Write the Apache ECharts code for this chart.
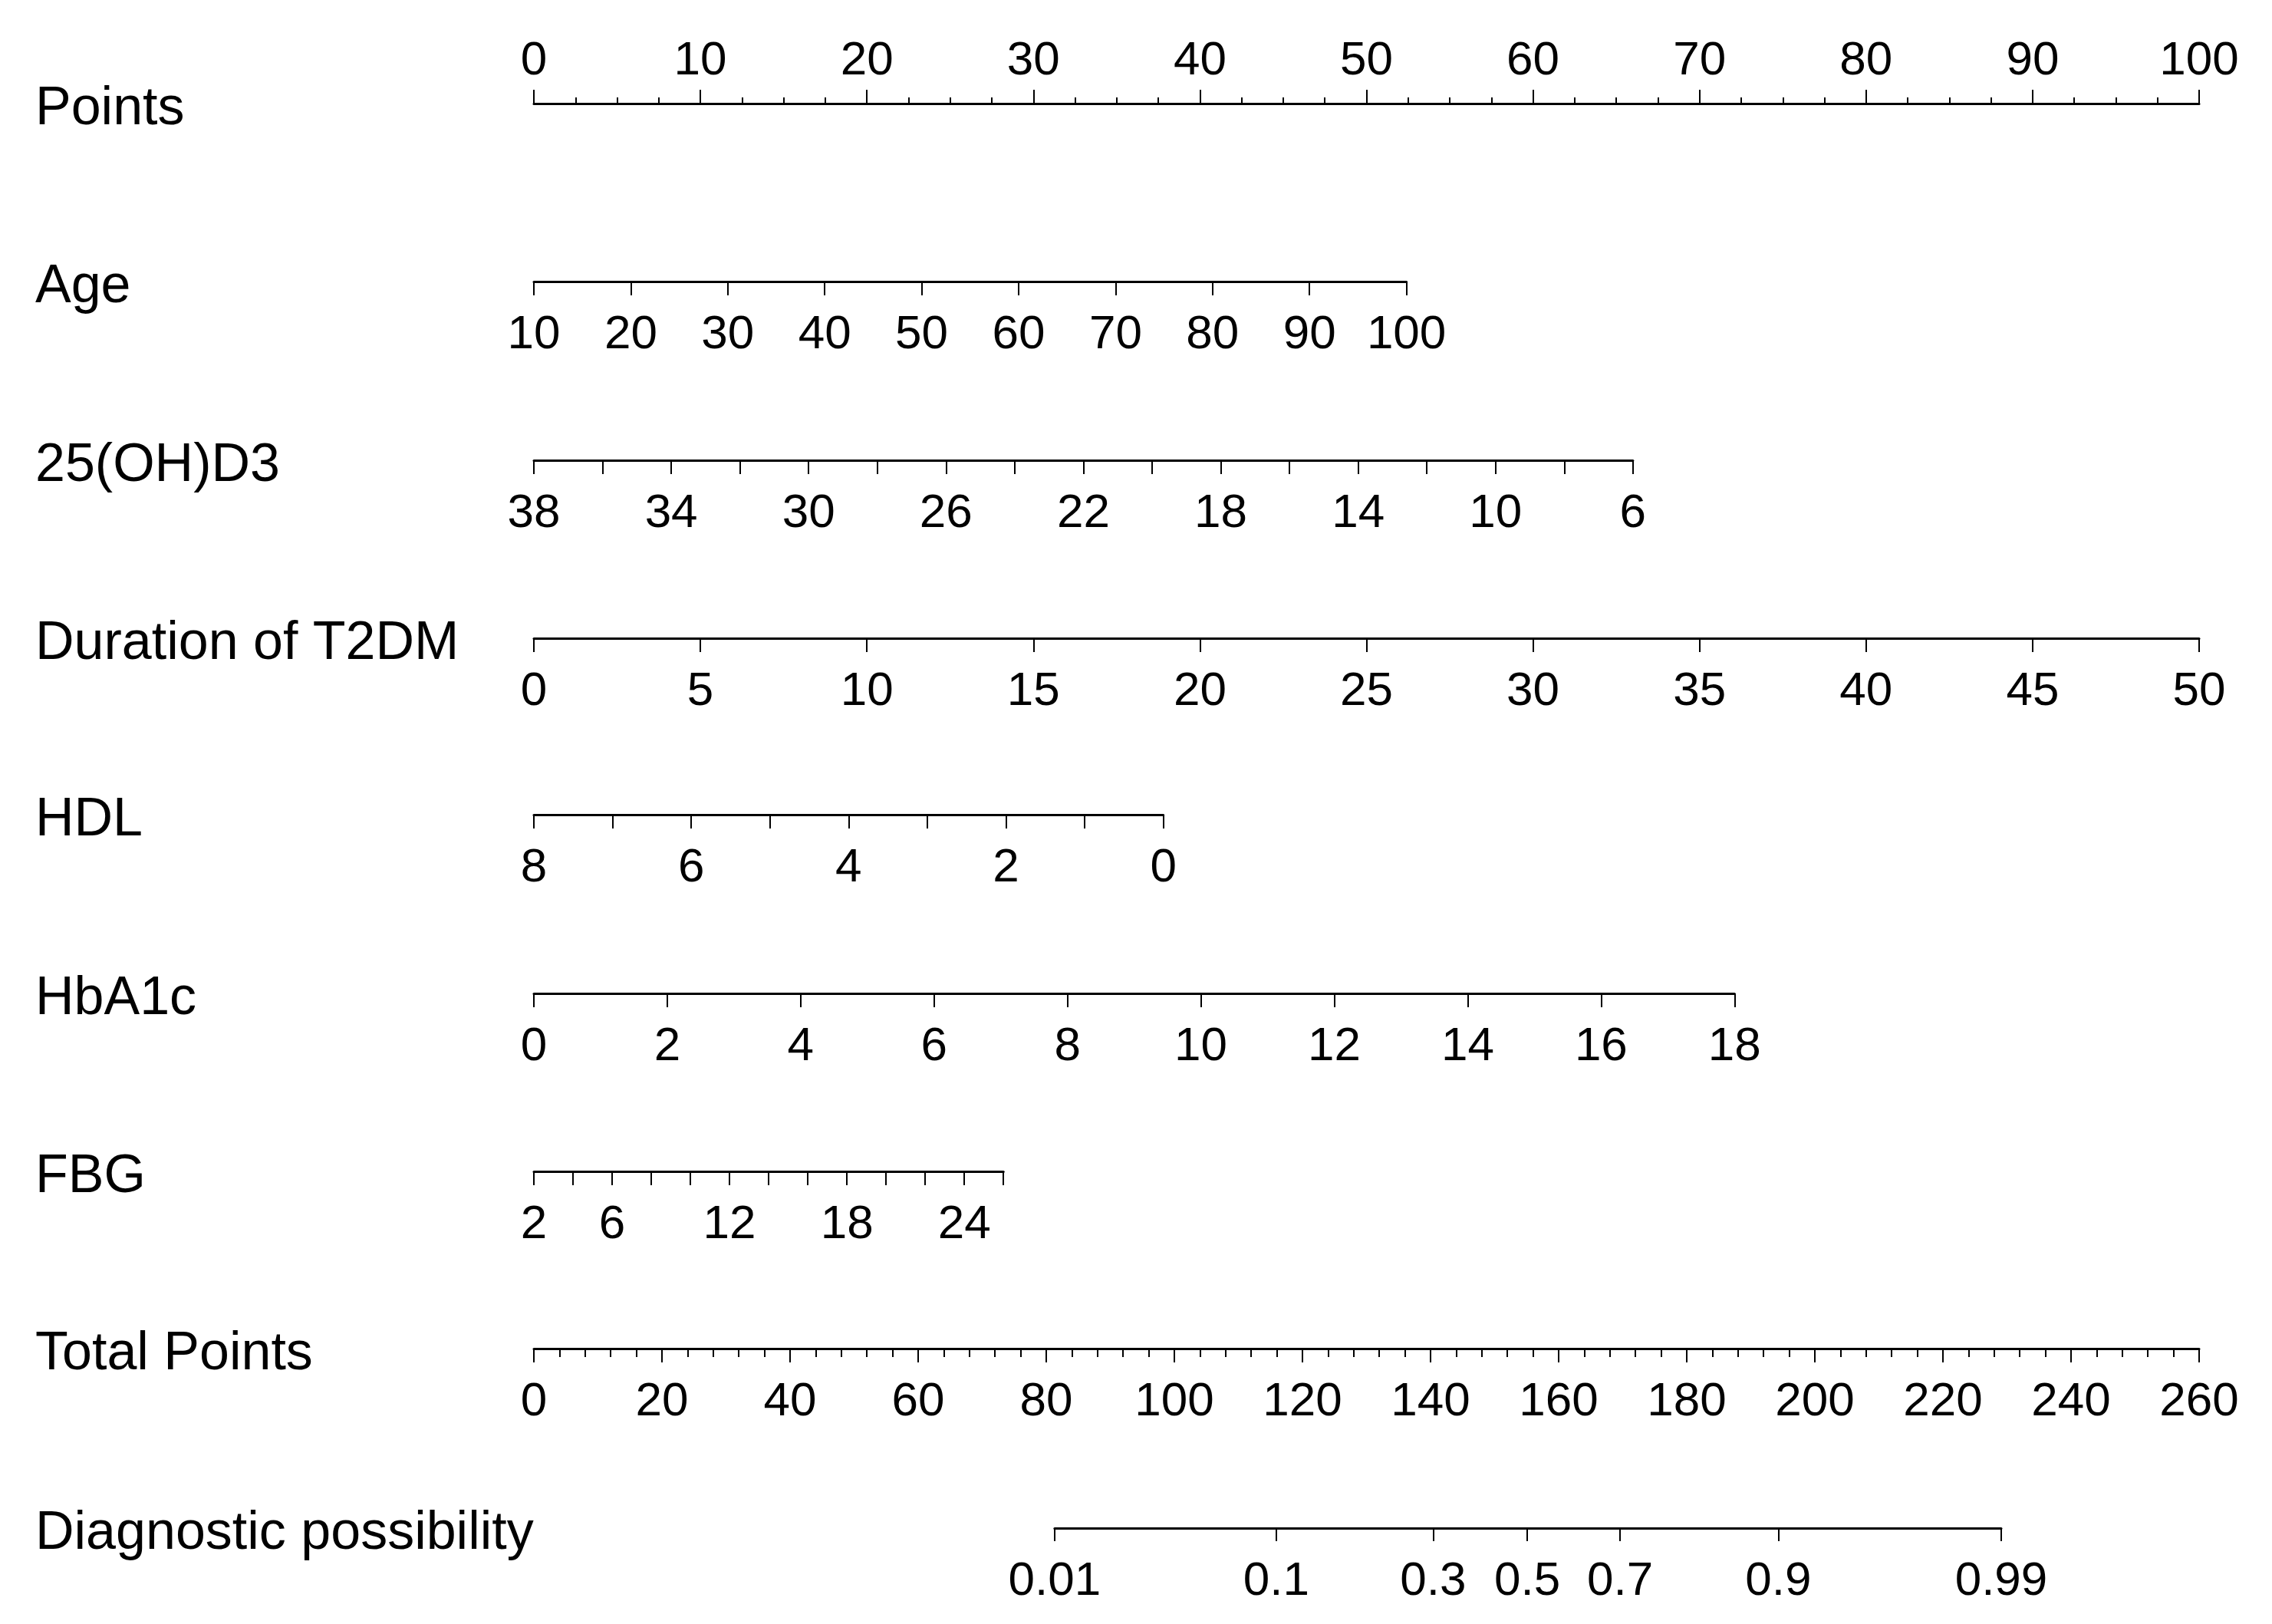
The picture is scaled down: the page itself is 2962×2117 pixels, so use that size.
<!DOCTYPE html>
<html>
<head>
<meta charset="utf-8">
<script src="https://cdn.jsdelivr.net/npm/echarts@6/dist/echarts.min.js"></script>
<style>
html, body { margin: 0; padding: 0; background: #fff; }
#main { width: 2962px; height: 2117px; }
</style>
</head>
<body>
<div id="main"></div>
<script>
// row names, top to bottom
var rowNames = ['Points', 'Age', '25(OH)D3', 'Duration of T2DM', 'HDL', 'HbA1c', 'FBG', 'Total Points', 'Diagnostic possibility'];

// points scale
var pointsRange = [0, 100];
var pointsStep = 10;

// predictors: value at 0 points, value at far end, points at far end
var ageRange = [10, 100];
var ageMaxPoints = 52.4;
var ageStep = 10;

var vitdRange = [38, 6];
var vitdMaxPoints = 66.0;
var vitdStep = 2;
var vitdLabels = [38, 34, 30, 26, 22, 18, 14, 10, 6];

var durationRange = [0, 50];
var durationMaxPoints = 100;
var durationStep = 5;

var hdlRange = [8, 0];
var hdlMaxPoints = 37.8;
var hdlStep = 1;
var hdlLabels = [8, 6, 4, 2, 0];

var hba1cRange = [0, 18];
var hba1cMaxPoints = 72.1;
var hba1cStep = 2;

var fbgRange = [2, 26];
var fbgMaxPoints = 28.2;
var fbgStep = 2;
var fbgLabels = [2, 6, 12, 18, 24];

// total points and probability
var totalRange = [0, 260];
var totalStep = 20;
var probLabels = ['0.01', '0.1', '0.3', '0.5', '0.7', '0.9', '0.99'];
var probTotalPoints = [81.3, 115.9, 140.4, 155.1, 169.6, 194.3, 229.1];

// layout
var X0 = 696, W = 2171;
var lineY = [135, 367, 600, 832, 1062, 1295, 1527, 1758, 1992];
var FONT = '"Liberation Sans", Arial, sans-serif';
var tickFont = 62, nameFont = 70;

var grids = [], xAxes = [], yAxes = [], graphics = [];

function labelFilter(list) {
    if (!list) return function(v) { return String(v); };
    return function(v) { return list.indexOf(v) >= 0 ? String(v) : ''; };
}

function addRow(i, range, endPoints, totalPoints, step, labels, extra) {
    var top = i === 0;
    grids.push({
        left: X0,
        width: endPoints / totalPoints * W,
        top: top ? lineY[i] : lineY[i] - 20,
        height: 20,
        containLabel: false,
        outerBoundsMode: 'none'
    });
    var ax = {
        gridIndex: i,
        type: 'value',
        position: top ? 'top' : 'bottom',
        min: Math.min(range[0], range[1]),
        max: Math.max(range[0], range[1]),
        interval: step,
        inverse: range[0] > range[1],
        axisLine: { show: true, onZero: false, lineStyle: { color: '#000', width: 3 } },
        axisTick: { show: true, length: 18, lineStyle: { color: '#000', width: 2 } },
        axisLabel: {
            show: true, margin: top ? 24 : 39, fontSize: tickFont, fontFamily: FONT, color: '#000',
            formatter: labelFilter(labels)
        },
        splitLine: { show: false }
    };
    if (extra) {
        for (var k in extra) ax[k] = extra[k];
    }
    xAxes.push(ax);
    yAxes.push({ gridIndex: i, type: 'value', show: false, min: 0, max: 1 });
}

addRow(0, pointsRange, 100, 100, pointsStep, null, {
    minorTick: { show: true, splitNumber: 4, length: 8, lineStyle: { color: '#000', width: 2 } }
});
addRow(1, ageRange, ageMaxPoints, 100, ageStep, null);
addRow(2, vitdRange, vitdMaxPoints, 100, vitdStep, vitdLabels);
addRow(3, durationRange, durationMaxPoints, 100, durationStep, null);
addRow(4, hdlRange, hdlMaxPoints, 100, hdlStep, hdlLabels);
addRow(5, hba1cRange, hba1cMaxPoints, 100, hba1cStep, null);
addRow(6, fbgRange, fbgMaxPoints, 100, fbgStep, fbgLabels);
addRow(7, totalRange, totalRange[1], totalRange[1], totalStep, null, {
    minorTick: { show: true, splitNumber: 5, length: 11, lineStyle: { color: '#000', width: 2 } }
});

// probability axis sits on the total points scale
var pFirst = probTotalPoints[0], pLast = probTotalPoints[probTotalPoints.length - 1];
grids.push({
    left: X0 + pFirst / totalRange[1] * W,
    width: (pLast - pFirst) / totalRange[1] * W,
    top: lineY[8] - 20,
    height: 20,
    containLabel: false,
    outerBoundsMode: 'none'
});
xAxes.push({
    gridIndex: 8,
    type: 'value',
    position: 'bottom',
    min: pFirst,
    max: pLast,
    axisLine: { show: true, onZero: false, lineStyle: { color: '#000', width: 3 } },
    axisTick: { show: true, length: 17, customValues: probTotalPoints, lineStyle: { color: '#000', width: 2 } },
    axisLabel: {
        show: true, margin: 39, fontSize: tickFont, fontFamily: FONT, color: '#000',
        customValues: probTotalPoints,
        formatter: function(v) {
            var idx = probTotalPoints.indexOf(v);
            return idx >= 0 ? probLabels[idx] : '';
        }
    },
    splitLine: { show: false }
});
yAxes.push({ gridIndex: 8, type: 'value', show: false, min: 0, max: 1 });

for (var i = 0; i < rowNames.length; i++) {
    graphics.push({
        type: 'text',
        x: 46,
        y: lineY[i] + 8,
        style: {
            text: rowNames[i],
            fontSize: nameFont,
            fontFamily: FONT,
            fill: '#000',
            verticalAlign: 'middle',
            align: 'left'
        }
    });
}

var chart = echarts.init(document.getElementById('main'));
chart.setOption({
    backgroundColor: '#fff',
    animation: false,
    grid: grids,
    xAxis: xAxes,
    yAxis: yAxes,
    graphic: graphics,
    series: []
});
</script>
</body>
</html>
